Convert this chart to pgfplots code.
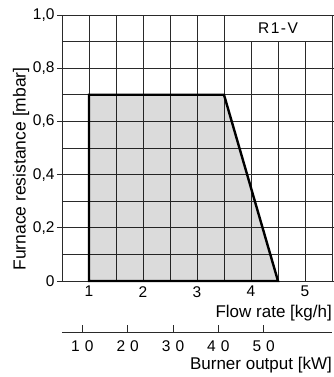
\documentclass[border=0pt]{standalone}
\usepackage{pgfplots}
\pgfplotsset{compat=1.18}
\usepackage{fontspec}
\setmainfont{Liberation Sans}
\usetikzlibrary{calc}
\definecolor{gridc}{HTML}{2A2A2A}
\begin{document}
\begin{tikzpicture}
\begin{axis}[name=main,
  scale only axis, width=270pt, height=266pt,
  xmin=0.5, xmax=5.5, ymin=0, ymax=1,
  xtick={1,2,3,4,5}, xticklabels={1,2,3,4,5},
  ytick={0,0.2,0.4,0.6,0.8,1},
  yticklabels={0,{0,2},{0,4},{0,6},{0,8},{1,0}},
  minor xtick={0.5,1.5,2.5,3.5,4.5,5.5},
  minor ytick={0.1,0.3,0.5,0.7,0.9},
  grid=both,
  grid style={draw=gridc, line width=0.75pt},
  minor grid style={draw=gridc, line width=0.75pt},
  major grid style={draw=gridc, line width=0.75pt},
  axis line style={draw=gridc, line width=0.75pt},
  xtick style={draw=none},
  minor tick length=0pt,
  ytick style={draw=gridc, line width=0.75pt},
  tick align=outside, major tick length=5pt,
  tick label style={font=\fontsize{15.5}{18}\selectfont},
  xticklabel style={yshift=1pt, inner sep=1pt},
  yticklabel style={xshift=1pt},
  xlabel={Flow rate [kg/h]},
  xlabel style={font=\fontsize{17}{20}\selectfont, at={(axis description cs:1,0)}, anchor=east, yshift=-32pt, inner sep=0pt},
  clip=false,
]
\addplot[draw=black, line width=2.4pt, line join=miter, fill=black, fill opacity=0.14]
  coordinates {(1,0) (1,0.7) (3.5,0.7) (4.5,0)} -- cycle;
\draw[fill=white, draw=gridc, line width=0.75pt] (axis cs:3.5,0.9) rectangle (axis cs:5.5,1);
\node[font=\fontsize{15.5}{18}\selectfont] at (axis cs:4.5,0.95) {R\hspace{1.5pt}1\hspace{1.5pt}-\hspace{1.5pt}V};
\node[font=\fontsize{17.5}{20}\selectfont, rotate=90, anchor=center, inner sep=0pt]
  at ([xshift=-41pt]axis description cs:0,0.421) {Furnace resistance [mbar]};
\end{axis}
\begin{axis}[name=second,
  at={($(main.south west)+(0,-51pt)$)}, anchor=south west,
  scale only axis, width=270pt, height=10pt,
  xmin=5.52, xmax=65.06, ymin=0, ymax=1,
  axis x line=bottom, axis y line=none,
  axis line style={-, draw=gridc, line width=0.75pt},
  xtick={10,20,30,40,50},
  xticklabels={1\hspace{5pt}0,2\hspace{5pt}0,3\hspace{5pt}0,4\hspace{5pt}0,5\hspace{5pt}0},
  xtick style={draw=gridc, line width=0.75pt},
  tick align=inside, major tick length=7pt,
  tick label style={font=\fontsize{15.5}{18}\selectfont},
  xticklabel style={yshift=-5pt},
  xlabel={Burner output [kW]},
  xlabel style={font=\fontsize{17}{20}\selectfont, at={(axis description cs:1,0)}, anchor=east, yshift=-33pt, inner sep=0pt},
]
\end{axis}
\pgfresetboundingbox
\path[use as bounding box] ($(main.south west)+(-62pt,-96pt)$) rectangle ($(main.south west)+(271pt,281pt)$);
\end{tikzpicture}
\end{document}
